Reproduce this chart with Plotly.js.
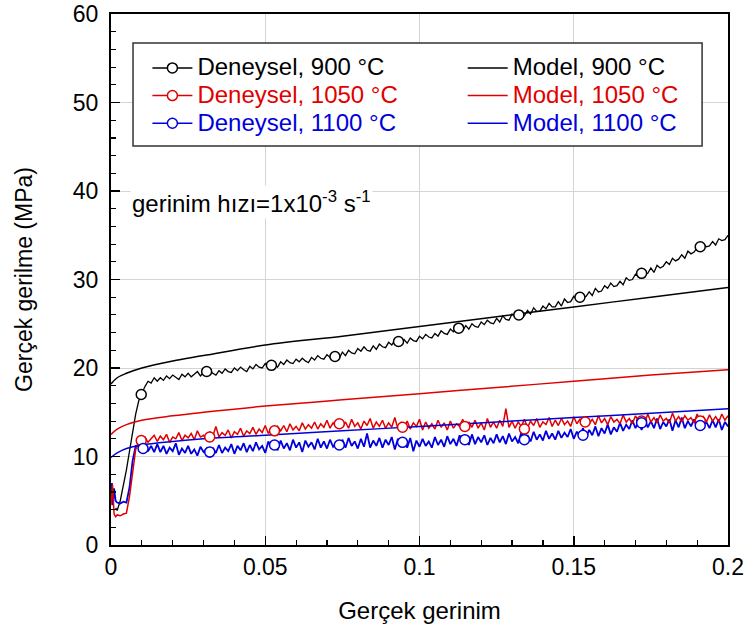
<!DOCTYPE html>
<html>
<head>
<meta charset="utf-8">
<script src="https://cdn.plot.ly/plotly-3.0.1.min.js"></script>
<style>html,body{margin:0;padding:0;background:#fff;}#chart{width:750px;height:635px;}</style>
</head>
<body>
<div id="chart"></div>
<script>
// ---- Data ----
const strainGrid = [
0.015,0.016,0.017,0.018,0.019,0.020,0.021,0.022,0.023,0.024,
0.025,0.026,0.027,0.028,0.029,0.030,0.031,0.032,0.033,0.034,
0.035,0.036,0.037,0.038,0.039,0.040,0.041,0.042,0.043,0.044,
0.045,0.046,0.047,0.048,0.049,0.050,0.051,0.052,0.053,0.054,
0.055,0.056,0.057,0.058,0.059,0.060,0.061,0.062,0.063,0.064,
0.065,0.066,0.067,0.068,0.069,0.070,0.071,0.072,0.073,0.074,
0.075,0.076,0.077,0.078,0.079,0.080,0.081,0.082,0.083,0.084,
0.085,0.086,0.087,0.088,0.089,0.090,0.091,0.092,0.093,0.094,
0.095,0.096,0.097,0.098,0.099,0.100,0.101,0.102,0.103,0.104,
0.105,0.106,0.107,0.108,0.109,0.110,0.111,0.112,0.113,0.114,
0.115,0.116,0.117,0.118,0.119,0.120,0.121,0.122,0.123,0.124,
0.125,0.126,0.127,0.128,0.129,0.130,0.131,0.132,0.133,0.134,
0.135,0.136,0.137,0.138,0.139,0.140,0.141,0.142,0.143,0.144,
0.145,0.146,0.147,0.148,0.149,0.150,0.151,0.152,0.153,0.154,
0.155,0.156,0.157,0.158,0.159,0.160,0.161,0.162,0.163,0.164,
0.165,0.166,0.167,0.168,0.169,0.170,0.171,0.172,0.173,0.174,
0.175,0.176,0.177,0.178,0.179,0.180,0.181,0.182,0.183,0.184,
0.185,0.186,0.187,0.188,0.189,0.190,0.191,0.192,0.193,0.194,
0.195,0.196,0.197,0.198,0.199,0.200];

// Deneysel 900 °C
const exp900Start = [0.0015,0.002,0.003,0.004,0.005,0.006,0.007,0.008,0.009,0.0098,0.011,0.012,0.013,0.014];
const exp900StartY = [4.2,3.9,5.0,6.6,8.5,10.6,12.8,14.8,16.3,17.0,17.9,18.5,18.3,18.9];
const exp900Y = [
18.5,18.9,18.6,19.1,18.8,19.2,18.9,18.7,19.3,19.0,
19.4,19.0,19.3,19.6,19.1,19.5,19.3,19.8,19.4,19.2,
19.7,19.4,19.9,19.6,19.5,20.0,19.7,20.1,19.8,19.6,
20.2,19.9,20.4,20.1,20.0,20.5,20.2,20.6,20.3,20.1,
20.7,20.4,20.9,20.6,20.5,21.0,20.7,21.1,20.8,20.6,
21.2,20.9,21.4,21.1,21.0,21.5,21.2,21.7,21.3,21.1,
21.8,21.4,22.0,21.7,21.6,22.2,21.9,22.4,22.0,21.9,
22.5,22.1,22.7,22.4,22.3,22.9,22.6,23.1,22.8,22.7,
23.2,22.8,23.4,23.1,23.0,23.6,23.3,23.8,23.5,23.4,
23.9,23.6,24.2,23.9,23.8,24.4,24.1,24.6,24.3,24.2,
24.8,24.4,25.0,24.7,24.6,25.2,24.9,25.4,25.1,25.0,
25.6,25.2,25.9,25.5,25.4,26.1,25.8,26.3,26.0,25.9,
26.5,26.1,26.8,26.4,26.4,27.0,26.7,27.3,26.9,26.9,
27.5,27.0,27.8,27.4,27.5,28.1,27.8,28.4,28.0,28.1,
28.6,28.2,29.0,28.6,28.7,29.3,29.0,29.6,29.2,29.3,
29.8,29.4,30.2,29.9,30.0,30.6,30.3,30.9,30.6,30.7,
31.3,30.8,31.6,31.3,31.5,32.0,31.7,32.4,32.1,32.3,
32.8,32.4,33.2,32.9,33.1,33.6,33.3,34.0,33.7,33.8,
34.3,33.9,34.6,34.4,34.5,35.0];
const mark900X = [0.0098,0.031,0.052,0.0726,0.0932,0.1127,0.1322,0.152,0.172,0.191];
const mark900Y = [17.0,19.6,20.3,21.3,23.0,24.5,26.0,28.0,30.7,33.7];

// Deneysel 1050 °C
const exp1050Start = [0,0.0005,0.001,0.0015,0.002,0.003,0.004,0.005,0.006,0.007,0.008,0.009,0.010,0.011,0.012,0.013,0.014];
const exp1050StartY = [4.5,6.8,3.5,3.2,3.4,3.3,3.5,3.6,5.5,8.5,10.8,11.6,11.8,12.2,11.6,12.0,12.4];
const exp1050Y = [
11.7,12.3,11.9,12.5,11.6,12.2,12.0,12.7,11.8,12.4,
12.1,12.6,11.9,12.9,12.2,12.4,11.9,12.8,12.3,13.4,
12.2,12.7,12.4,13.0,12.1,12.8,12.5,13.2,12.3,12.9,
12.6,13.3,12.5,13.1,12.7,13.5,12.6,13.2,12.8,13.4,
12.9,13.5,12.8,13.7,13.0,13.4,12.9,13.8,13.1,13.6,
13.2,13.9,13.1,13.7,13.3,14.1,13.2,13.8,13.4,14.0,
13.3,13.9,13.2,14.2,13.4,13.8,13.1,14.0,13.5,14.3,
13.2,13.9,13.4,14.1,13.2,13.8,13.3,14.4,13.1,13.9,
13.3,14.0,13.1,13.8,13.4,14.2,13.0,13.9,13.2,13.7,
13.1,14.1,13.3,13.8,13.0,14.0,13.2,13.7,13.4,14.2,
13.1,13.9,13.3,14.1,13.2,13.8,13.0,14.3,13.3,13.9,
13.2,14.1,13.4,15.4,13.3,14.0,13.2,13.9,13.4,14.2,
13.3,14.0,13.5,14.3,13.3,13.9,13.6,14.4,13.4,14.1,
13.5,14.3,13.6,14.0,13.4,14.5,13.7,14.2,13.5,14.4,
13.7,14.2,13.6,14.6,13.8,14.3,13.6,14.5,13.9,14.2,
13.7,14.7,13.9,14.3,13.7,14.6,14.0,14.4,13.8,14.8,
13.9,14.4,13.8,14.7,14.0,14.3,13.8,14.9,14.0,14.5,
13.9,14.6,14.1,14.4,13.8,14.8,14.0,14.5,13.9,14.7,
14.0,14.5,13.9,14.8,14.1,14.6];
const mark1050X = [0.0098,0.032,0.053,0.074,0.0945,0.1147,0.134,0.1537,0.172,0.191];
const mark1050Y = [11.8,12.2,12.9,13.7,13.3,13.4,13.1,13.9,14.0,14.0];

// Deneysel 1100 °C
const exp1100Start = [0,0.0003,0.0006,0.001,0.0015,0.002,0.003,0.004,0.005,0.006,0.007,0.008,0.009,0.010,0.011,0.012,0.013,0.014];
const exp1100StartY = [5.0,7.0,4.5,6.4,5.0,4.8,4.7,4.9,4.8,6.5,9.5,11.2,11.3,10.8,11.5,10.6,11.2,10.5];
const exp1100Y = [
11.4,10.5,11.2,10.3,11.0,10.6,11.5,10.2,10.9,10.4,
11.2,10.3,10.8,10.1,11.1,10.5,10.9,9.9,11.0,10.4,
11.3,10.4,11.0,10.6,11.4,10.3,11.2,10.7,11.5,10.5,
11.3,10.6,11.6,10.8,11.2,10.4,11.7,10.9,11.4,10.7,
11.8,10.9,11.5,10.7,11.9,11.0,11.6,10.5,11.8,11.1,
11.6,10.8,12.0,11.0,11.7,10.9,11.9,11.1,11.5,10.8,
11.9,11.0,12.1,11.2,11.7,10.9,12.0,11.1,12.6,11.0,
11.8,11.2,12.1,11.0,11.9,11.3,12.2,10.8,12.0,11.2,
11.9,11.0,12.1,10.6,11.8,11.1,12.0,11.2,11.7,11.0,
12.2,11.3,11.9,11.1,12.3,11.4,12.0,11.2,12.4,11.5,
12.1,11.3,12.5,11.4,12.2,11.6,12.4,11.3,12.1,11.5,
12.5,11.6,12.3,11.4,12.6,11.7,12.2,11.5,12.7,11.8,
12.4,11.7,12.8,11.9,12.5,11.8,12.9,12.0,12.6,11.9,
12.9,12.1,12.7,12.2,13.1,12.0,12.8,12.3,13.2,12.2,
13.0,12.4,13.4,12.3,13.2,12.6,13.6,12.5,13.3,12.8,
13.8,12.9,13.6,13.1,14.1,13.2,13.9,13.0,14.2,13.3,
14.0,13.2,14.3,13.1,13.9,13.4,14.2,12.9,14.1,13.3,
14.4,13.2,14.0,13.4,14.2,13.1,14.3,13.5,13.9,13.2,
14.1,13.3,14.2,13.0,13.9,13.4];
const mark1100X = [0.0104,0.032,0.053,0.074,0.0945,0.1147,0.134,0.153,0.172,0.191];
const mark1100Y = [10.9,10.5,11.3,11.3,11.6,11.9,11.9,12.4,13.8,13.5];

// Model curves
const modelX = [0,0.002,0.005,0.01,0.02,0.03,0.05,0.075,0.1,0.125,0.15,0.175,0.2];
const model900 = [18.2,18.9,19.4,20.0,20.8,21.4,22.6,23.6,24.7,25.8,26.9,28.0,29.1];
const model1050 = [12.5,13.1,13.6,14.1,14.6,15.0,15.7,16.4,17.1,17.8,18.5,19.2,19.8];
const model1100 = [9.9,10.4,10.9,11.3,11.7,12.0,12.4,12.9,13.4,13.9,14.4,14.9,15.4];

const legendNames = ['Deneysel, 900 °C','Model, 900 °C','Deneysel, 1050 °C','Model, 1050 °C','Deneysel, 1100 °C','Model, 1100 °C'];

// ---- Styling ----
const BLACK = '#000000', RED = '#e00000', BLUE = '#0000dd';
const FONT = 'Liberation Sans, Arial, sans-serif';

function gapped(arr){ const out=[]; arr.forEach((v,i)=>{ if(i) out.push(null); out.push(v); }); return out; }
function colored(t,c){ return '<span style="color:'+c+';font-size:24px">'+t+'</span>'; }

const traces = [];
function noisy(xs, ys, color, w){
  traces.push({type:'scatter', mode:'lines', x:xs, y:ys, line:{color:color, width:w}, showlegend:false, hoverinfo:'skip'});
}
noisy(exp900Start.concat(strainGrid), exp900StartY.concat(exp900Y), BLACK, 1.3);
noisy(exp1100Start.concat(strainGrid), exp1100StartY.concat(exp1100Y), BLUE, 1.8);
noisy(exp1050Start.concat(strainGrid), exp1050StartY.concat(exp1050Y), RED, 1.5);

function model(ys, color, name, rank){
  traces.push({type:'scatter', mode:'lines', x:modelX, y:ys, line:{color:color, width:1.5, shape:'spline'},
    name:colored(name,color), legend:'legend2', legendrank:rank});
}
function markers(xs, ys, color, name, rank){
  traces.push({type:'scatter', mode:'lines+markers', x:gapped(xs), y:gapped(ys), connectgaps:false,
    line:{color:color, width:1.5}, marker:{symbol:'circle', size:10, color:'#ffffff', line:{color:color, width:1.5}},
    name:colored(name,color), legend:'legend', legendrank:rank});
}
model(model900, BLACK, legendNames[1], 1);
model(model1050, RED, legendNames[3], 2);
model(model1100, BLUE, legendNames[5], 3);
markers(mark900X, mark900Y, BLACK, legendNames[0], 1);
markers(mark1050X, mark1050Y, RED, legendNames[2], 2);
markers(mark1100X, mark1100Y, BLUE, legendNames[4], 3);

const legendCommon = {
  orientation:'v', yanchor:'top', xanchor:'left', y:0.934,
  bgcolor:'rgba(0,0,0,0)', borderwidth:0, font:{size:19, family:FONT},
  itemwidth:40, tracegroupgap:0, traceorder:'normal'
};

const layout = {
  width:750, height:635,
  margin:{l:111, r:22, t:14, b:90},
  paper_bgcolor:'#ffffff', plot_bgcolor:'#ffffff',
  font:{family:FONT, size:22, color:'#000'},
  xaxis:{
    range:[0,0.2], tickvals:[0,0.05,0.1,0.15,0.2], ticktext:['0','0.05','0.1','0.15','0.2'],
    ticks:'inside', ticklen:9, tickwidth:1.5, tickcolor:'#000',
    minor:{dtick:0.01, ticks:'inside', ticklen:5, tickwidth:1.2, tickcolor:'#000', showgrid:false},
    showline:true, linecolor:'#000', linewidth:2, mirror:true,
    showgrid:true, gridcolor:'#d4d4d4', gridwidth:1, zeroline:false,
    tickfont:{size:23, family:FONT}, ticklabelstandoff:0,
    title:{text:'Gerçek gerinim', font:{size:24, family:FONT}, standoff:24}
  },
  yaxis:{
    range:[0,60], dtick:10, tick0:0,
    ticks:'inside', ticklen:9, tickwidth:1.5, tickcolor:'#000',
    minor:{dtick:2, ticks:'inside', ticklen:5, tickwidth:1.2, tickcolor:'#000', showgrid:false},
    showline:true, linecolor:'#000', linewidth:2, mirror:true,
    showgrid:true, gridcolor:'#d4d4d4', gridwidth:1, zeroline:false,
    tickfont:{size:23, family:FONT}, ticklabelstandoff:6,
    title:{text:'Gerçek gerilme (MPa)', font:{size:23, family:FONT}, standoff:34}
  },
  legend: Object.assign({}, legendCommon, {x:0.059}),
  legend2: Object.assign({}, legendCommon, {x:0.570}),
  shapes:[{
    type:'rect', xref:'paper', yref:'paper', x0:0.0357, x1:0.958, y0:0.7514, y1:0.9454,
    line:{color:'#333333', width:1.5}, fillcolor:'#ffffff', layer:'above'
  }],
  annotations:[{
    xref:'x', yref:'y', x:0.006, y:38.8, xanchor:'left', yanchor:'middle', showarrow:false,
    text:'gerinim hızı=1x10<sup>-3</sup> s<sup>-1</sup>', font:{size:24, family:FONT, color:'#000'},
    bgcolor:'#ffffff', borderpad:1
  }],
  showlegend:true
};

Plotly.newPlot('chart', traces, layout, {staticPlot:true, displayModeBar:false});
</script>
</body>
</html>
